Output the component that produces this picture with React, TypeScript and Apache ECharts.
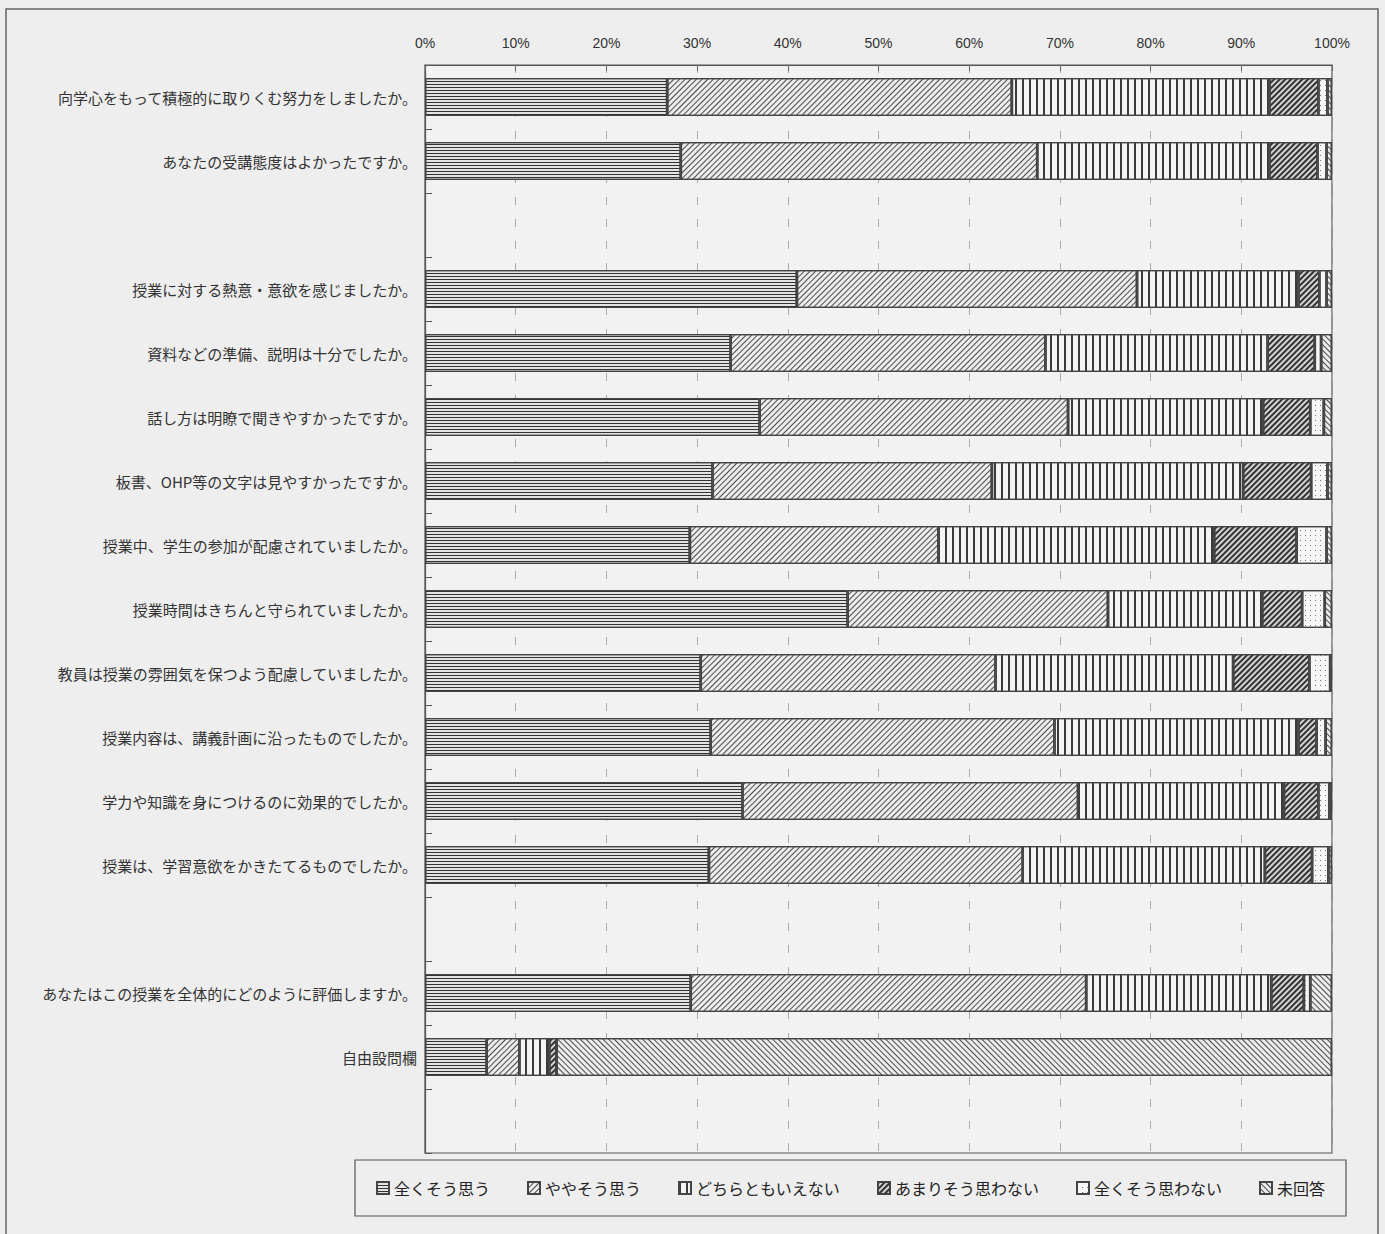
import React, { useEffect, useRef } from "react";
import * as echarts from "echarts";

const categories = [
  "向学心をもって積極的に取りくむ努力をしましたか。",
  "あなたの受講態度はよかったですか。",
  "",
  "授業に対する熱意・意欲を感じましたか。",
  "資料などの準備、説明は十分でしたか。",
  "話し方は明瞭で聞きやすかったですか。",
  "板書、OHP等の文字は見やすかったですか。",
  "授業中、学生の参加が配慮されていましたか。",
  "授業時間はきちんと守られていましたか。",
  "教員は授業の雰囲気を保つよう配慮していましたか。",
  "授業内容は、講義計画に沿ったものでしたか。",
  "学力や知識を身につけるのに効果的でしたか。",
  "授業は、学習意欲をかきたてるものでしたか。",
  " ",
  "あなたはこの授業を全体的にどのように評価しますか。",
  "自由設問欄",
  "  ",
];

const seriesNames = [
  "全くそう思う",
  "ややそう思う",
  "どちらともいえない",
  "あまりそう思わない",
  "全くそう思わない",
  "未回答",
];

const stronglyAgree = [26.7, 28.2, null, 41.0, 33.7, 36.9, 31.7, 29.2, 46.6, 30.4, 31.5, 35.0, 31.3, null, 29.3, 6.8, null];
const somewhatAgree = [38.0, 39.3, null, 37.5, 34.7, 34.0, 30.8, 27.4, 28.7, 32.5, 37.9, 37.0, 34.6, null, 43.6, 3.6, null];
const neutral = [28.4, 25.6, null, 17.8, 24.5, 21.5, 27.7, 30.4, 17.0, 26.2, 26.9, 22.7, 26.7, null, 20.4, 3.3, null];
const somewhatDisagree = [5.4, 5.3, null, 2.3, 5.2, 5.2, 7.5, 9.1, 4.4, 8.4, 2.0, 3.8, 5.2, null, 3.6, 0.8, null];
const stronglyDisagree = [1.0, 1.0, null, 0.8, 0.7, 1.5, 1.8, 3.3, 2.5, 2.3, 1.0, 1.2, 1.8, null, 0.7, 0, null];
const noAnswer = [0.5, 0.6, null, 0.6, 1.2, 0.9, 0.5, 0.6, 0.8, 0.2, 0.7, 0.3, 0.4, null, 2.4, 85.5, null];

const seriesValues = [stronglyAgree, somewhatAgree, neutral, somewhatDisagree, stronglyDisagree, noAnswer];

const decals: any[] = [
  { symbol: "rect", symbolSize: 1, color: "#333333", backgroundColor: "#e4e4e4", dashArrayX: [1, 0], dashArrayY: [1, 2], rotation: 0 },
  { symbol: "rect", symbolSize: 1, color: "#4a4a4a", backgroundColor: "#ececec", dashArrayX: [1, 0], dashArrayY: [1, 3], rotation: -Math.PI / 4 },
  { symbol: "rect", symbolSize: 1, color: "#3a3a3a", backgroundColor: "#f4f4f4", dashArrayX: [1.5, 5], dashArrayY: [1, 0], rotation: 0 },
  { symbol: "rect", symbolSize: 1, color: "#333333", backgroundColor: "#d4d4d4", dashArrayX: [1, 0], dashArrayY: [1.5, 2], rotation: -Math.PI / 4 },
  { symbol: "rect", symbolSize: 1, color: "#777777", backgroundColor: "#f6f6f6", dashArrayX: [1, 4], dashArrayY: [1, 4], rotation: 0 },
  { symbol: "rect", symbolSize: 1, color: "#4a4a4a", backgroundColor: "#ececec", dashArrayX: [1, 0], dashArrayY: [1, 3], rotation: Math.PI / 4 },
];

const FONT = "'Noto Sans CJK JP', 'Noto Sans', sans-serif";

export default function App() {
  const ref = useRef<HTMLDivElement>(null);

  useEffect(() => {
    if (!ref.current) return;
    const chart = echarts.init(ref.current, undefined, { renderer: "svg" });
    const option: any = {
      animation: false,
      backgroundColor: "#eeeeee",
      aria: { enabled: true, decal: { show: true } },
      textStyle: { fontFamily: FONT },
      graphic: [
        {
          type: "rect",
          shape: { x: 6, y: 9, width: 1372, height: 1240 },
          style: { fill: "none", stroke: "#666", lineWidth: 1.5 },
          silent: true,
        },
      ],
      legend: {
        data: seriesNames,
        left: 355,
        top: 1160,
        orient: "horizontal",
        padding: [20, 21],
        itemGap: 37,
        itemWidth: 12,
        itemHeight: 12,
        icon: "rect",
        borderColor: "#555",
        borderWidth: 1.2,
        backgroundColor: "#eeeeee",
        textStyle: { fontSize: 16, color: "#222", fontFamily: FONT },
      },
      grid: {
        left: 425,
        right: 53,
        top: 65,
        bottom: 81,
        show: true,
        borderColor: "#555",
        borderWidth: 1.2,
        backgroundColor: "#f2f2f2",
        containLabel: false,
      },
      xAxis: {
        type: "value",
        position: "top",
        min: 0,
        max: 100,
        interval: 10,
        axisLine: { show: true, lineStyle: { color: "#555", width: 1.2 } },
        axisTick: { show: true, inside: true, length: 6, lineStyle: { color: "#666" } },
        axisLabel: {
          formatter: "{value}%",
          fontSize: 14,
          color: "#333",
          margin: 15,
          fontFamily: "'Liberation Sans', Arial, sans-serif",
        },
        splitLine: { show: true, lineStyle: { color: "#aaaaaa", type: [8, 14], width: 1 } },
      },
      yAxis: {
        type: "category",
        inverse: true,
        data: categories,
        axisLine: { show: true, lineStyle: { color: "#555", width: 1.2 } },
        axisTick: { show: true, inside: true, length: 7, lineStyle: { color: "#555" } },
        axisLabel: { fontSize: 15, color: "#333", margin: 8, fontFamily: FONT },
        splitLine: { show: false },
      },
      series: seriesNames.map((name, i) => ({
        name,
        type: "bar",
        stack: "total",
        barWidth: 38,
        data: seriesValues[i],
        itemStyle: {
          color: decals[i].backgroundColor,
          borderColor: "#444",
          borderWidth: 1.3,
          decal: decals[i],
        },
        emphasis: { disabled: true },
      })),
    };
    chart.setOption(option);
    return () => chart.dispose();
  }, []);

  return (
    <div
      ref={ref}
      style={{ position: "absolute", left: 0, top: 0, width: 1385, height: 1234 }}
    />
  );
}
